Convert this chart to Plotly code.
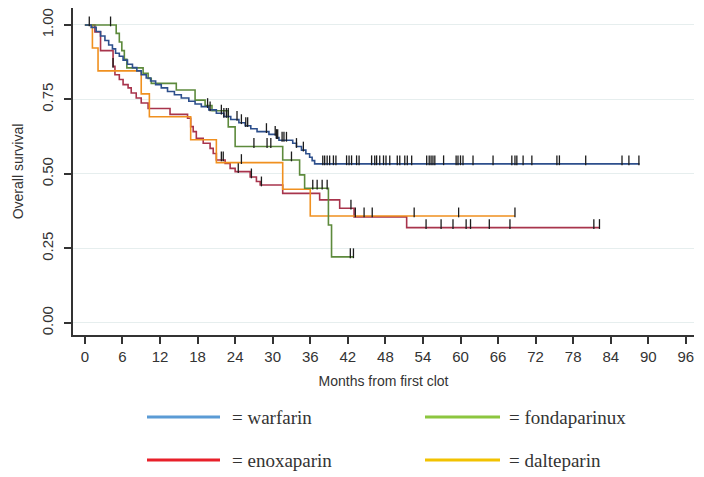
import plotly.graph_objects as go

# ---------------- data ----------------
warfarin_t = [1.0, 1.8, 2.5, 3.2, 3.8, 4.4, 4.9, 5.5, 6.1, 6.8, 7.6, 8.3, 9.0, 9.8, 10.5,
              11.3, 12.2, 13.2, 14.3, 15.4, 16.6, 17.6, 18.6, 19.8, 21.0, 22.2, 23.3,
              24.6, 25.6, 26.5, 27.5, 29.4, 30.6, 31.0, 33.2, 33.8, 34.6, 35.3, 35.9,
              36.3, 36.7]
warfarin_s = [0.992, 0.978, 0.963, 0.948, 0.933, 0.920, 0.905, 0.895, 0.882, 0.868, 0.857,
              0.846, 0.833, 0.822, 0.812, 0.800, 0.789, 0.777, 0.766, 0.755, 0.744, 0.735,
              0.726, 0.715, 0.704, 0.693, 0.683, 0.672, 0.662, 0.652, 0.642, 0.633, 0.622,
              0.613, 0.603, 0.592, 0.580, 0.568, 0.556, 0.545, 0.534]
warfarin_end = 88.6
warfarin_cens = [19.6, 20.0, 21.8, 22.2, 22.6, 22.9, 24.3, 25.0, 25.7, 26.0, 29.0, 30.4,
                 30.6, 30.8, 31.5, 31.8, 32.2, 33.8, 34.9, 38.0, 38.3, 38.7, 39.1, 39.7,
                 40.1, 41.8, 42.2, 42.6, 43.4, 43.8, 45.8, 46.3, 46.6, 47.1, 47.7, 48.1,
                 48.7, 49.9, 50.3, 51.1, 51.5, 52.2, 54.6, 55.0, 55.3, 55.6, 55.9, 57.3,
                 59.3, 59.6, 60.0, 60.4, 62.0, 65.2, 68.2, 68.7, 69.0, 70.0, 71.4, 75.4,
                 75.8, 80.0, 85.8, 86.9, 88.5]

fonda_t = [5.0, 5.5, 5.9, 6.3, 6.7, 9.3, 10.1, 10.6, 14.6, 17.6, 19.2, 20.3, 22.9, 24.0,
           31.6, 34.3, 35.1, 38.9, 39.4]
fonda_s = [0.972, 0.943, 0.914, 0.885, 0.856, 0.838, 0.821, 0.804, 0.782, 0.748, 0.730,
           0.712, 0.658, 0.592, 0.547, 0.497, 0.452, 0.329, 0.222]
fonda_end = 42.9
fonda_cens = [0.7, 4.1, 27.0, 29.1, 29.7, 33.0, 36.4, 37.1, 37.9, 38.7, 42.4, 42.9]

enox_t = [1.6, 2.5, 4.5, 4.8, 5.5, 6.1, 6.9, 7.4, 8.2, 9.0, 10.1, 13.6, 16.4, 16.9, 17.3,
          17.8, 18.9, 20.0, 20.5, 21.0, 22.4, 23.2, 24.0, 26.4, 27.4, 28.0, 31.6, 37.5,
          40.7, 43.0, 51.4]
enox_s = [0.977, 0.914, 0.861, 0.833, 0.817, 0.800, 0.789, 0.772, 0.755, 0.738, 0.720,
          0.700, 0.687, 0.659, 0.642, 0.620, 0.603, 0.586, 0.569, 0.547, 0.535, 0.519,
          0.508, 0.490, 0.475, 0.463, 0.435, 0.413, 0.385, 0.356, 0.320]
enox_end = 82.2
enox_cens = [4.5, 21.8, 22.1, 24.5, 26.6, 28.2, 42.5, 54.5, 56.9, 58.8, 60.9, 61.6, 64.6,
             67.9, 81.3, 82.2]

dalte_t = [1.2, 2.1, 9.0, 10.3, 16.9, 21.0, 31.6, 36.0]
dalte_s = [0.923, 0.846, 0.769, 0.692, 0.615, 0.538, 0.449, 0.359]
dalte_end = 68.7
dalte_cens = [25.0, 43.2, 44.6, 45.9, 52.6, 59.7, 68.7]

x_ticks = list(range(0, 97, 6))
y_ticks = [0.0, 0.25, 0.50, 0.75, 1.00]
y_ticklabels = ["0.00", "0.25", "0.50", "0.75", "1.00"]

legend_names = ["= warfarin", "= fondaparinux", "= enoxaparin", "= dalteparin"]

# ---------------- styling ----------------
curve_colors = {"warfarin": "#2d4f8c", "fonda": "#5d8a3c", "enox": "#a8344c", "dalte": "#f0901f"}
legend_colors = ["#5b9bd5", "#8cc63f", "#e8202a", "#f2c200"]
CENSOR_COLOR = "#1c1c1c"


def surv_at(t, times, surv):
    s = 1.0
    for ti, si in zip(times, surv):
        if ti <= t:
            s = si
    return s


fig = go.Figure()
series = [
    ("warfarin", warfarin_t, warfarin_s, warfarin_end, warfarin_cens),
    ("fonda", fonda_t, fonda_s, fonda_end, fonda_cens),
    ("enox", enox_t, enox_s, enox_end, enox_cens),
    ("dalte", dalte_t, dalte_s, dalte_end, dalte_cens),
]
for key, t, s, end, cens in [series[2], series[3], series[1], series[0]]:
    xs = [0] + t + [end]
    ys = [1.0] + s + [s[-1]]
    fig.add_trace(go.Scatter(x=xs, y=ys, mode="lines", line=dict(color=curve_colors[key], width=1.6, shape="hv"),
                             showlegend=False, hoverinfo="skip"))
for key, t, s, end, cens in series:
    cy = [surv_at(c, t, s) + 0.012 for c in cens]
    fig.add_trace(go.Scatter(x=cens, y=cy, mode="markers",
                             marker=dict(symbol="line-ns", size=7, line=dict(color=CENSOR_COLOR, width=1.3)),
                             showlegend=False, hoverinfo="skip"))

# ---------------- layout ----------------
L, R, T, B = 73, 694, 8, 335
W, H = 704, 477


def px_x(p):
    return (p - L) / (R - L)


def px_y(p):
    return (B - p) / (B - T)


TICKFONT = dict(family="Liberation Sans, Arial", size=15, color="#333333")
TITLEFONT = dict(family="Liberation Sans, Arial", size=14, color="#333333")

fig.update_layout(
    width=W, height=H,
    margin=dict(l=L, r=W - R, t=T, b=H - B, pad=0, autoexpand=False),
    paper_bgcolor="white", plot_bgcolor="white",
    showlegend=False,
    xaxis=dict(range=[-1.9, 97.3], tickmode="array", tickvals=x_ticks, automargin=False,
               ticks="outside", ticklen=7, tickwidth=1.5, tickcolor="#333333",
               showline=True, linecolor="#333333", linewidth=2, showgrid=False, zeroline=False,
               tickfont=TICKFONT,
               title=dict(text="Months from first clot", font=TITLEFONT, standoff=12)),
    yaxis=dict(range=[-0.0403, 1.057], tickmode="array", tickvals=y_ticks, ticktext=y_ticklabels,
               tickangle=-90, automargin=False, ticklabelstandoff=5,
               ticks="outside", ticklen=7, tickwidth=1.5, tickcolor="#333333",
               showline=True, linecolor="#333333", linewidth=2,
               showgrid=True, gridcolor="#e6eeee", gridwidth=1, zeroline=False,
               tickfont=TICKFONT,
               title=dict(text="Overall survival", font=TITLEFONT, standoff=12)),
)

leg_rows = [417, 460]
leg_cols = [(147, 220, 230), (425, 500, 507)]
order = [(0, 0, 0), (1, 0, 1), (2, 1, 0), (3, 1, 1)]
for idx, row, col in order:
    x0, x1, xt = leg_cols[col]
    yy = leg_rows[row]
    fig.add_shape(type="line", xref="paper", yref="paper", x0=px_x(x0), x1=px_x(x1), y0=px_y(yy), y1=px_y(yy),
                  line=dict(color=legend_colors[idx], width=3))
    fig.add_annotation(xref="paper", yref="paper", x=px_x(xt), y=px_y(yy), text=legend_names[idx],
                       showarrow=False, xanchor="left", yanchor="middle",
                       font=dict(family="Liberation Serif, Times New Roman, serif", size=19, color="#333333"))

fig.write_html("out.html", config={"displayModeBar": False},
               post_script="document.body.style.margin='0';document.body.style.padding='0';")
